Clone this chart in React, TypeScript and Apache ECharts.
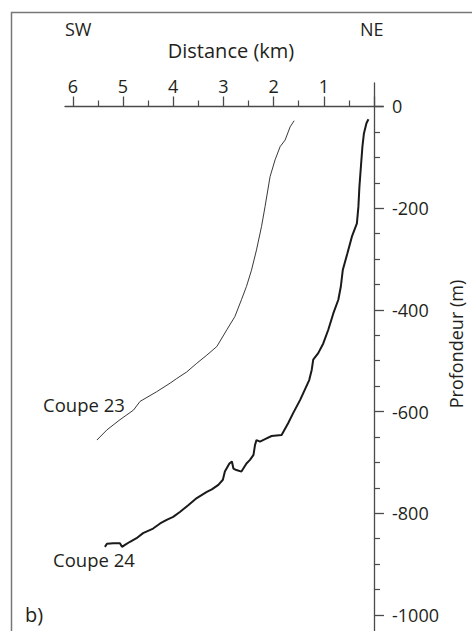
import React, { useEffect, useRef } from "react";
import * as echarts from "echarts";

// Axis ticks / labels
const xMajorTicks = [0, 1, 2, 3, 4, 5, 6];
const xLabelValues = [1, 2, 3, 4, 5, 6];
const xMinorTicks = [0.5, 1.5, 2.5, 3.5, 4.5, 5.5];
const yMajorTicks = [0, -200, -400, -600, -800, -1000];
const yMinorTicks = [-50, -100, -150, -250, -300, -350, -450, -500, -550, -650, -700, -750, -850, -900, -950];

// Coupe 23 (distance km, depth m)
const coupe23Km = [1.59, 1.67, 1.77, 1.87, 1.97, 2.07, 2.17, 2.24, 2.34, 2.44, 2.54, 2.64, 2.77, 2.93, 3.13, 3.33, 3.53, 3.73, 3.93, 4.06, 4.33, 4.66, 4.79, 5.06, 5.32, 5.52];
const coupe23Depth = [-28, -40, -66, -79, -105, -138, -197, -236, -282, -322, -354, -380, -413, -439, -472, -489, -505, -522, -535, -544, -561, -580, -597, -616, -636, -656];

// Coupe 24 (distance km, depth m)
const coupe24Km = [0.11, 0.15, 0.2, 0.23, 0.26, 0.29, 0.31, 0.34, 0.44, 0.53, 0.62, 0.66, 0.71, 0.81, 0.91, 1.01, 1.11, 1.21, 1.24, 1.29, 1.47, 1.61, 1.71, 1.84, 2.04, 2.17, 2.27, 2.34, 2.37, 2.4, 2.47, 2.54, 2.64, 2.74, 2.8, 2.83, 2.88, 2.97, 3.01, 3.1, 3.23, 3.33, 3.53, 3.7, 3.86, 4.0, 4.13, 4.26, 4.4, 4.6, 4.73, 4.86, 4.96, 5.02, 5.06, 5.19, 5.32, 5.36];
const coupe24Depth = [-25, -33, -53, -79, -118, -158, -197, -230, -256, -289, -321, -354, -380, -407, -439, -466, -485, -498, -518, -538, -577, -603, -623, -646, -648, -654, -659, -656, -666, -685, -695, -702, -718, -715, -712, -698, -702, -718, -734, -744, -753, -758, -770, -784, -797, -807, -813, -820, -830, -839, -849, -856, -862, -866, -859, -859, -860, -866];

const FONT = "'Open Sans', 'Noto Sans', sans-serif";
const TEXT_COLOR = "#231f20";
const AXIS_COLOR = "#4a4a4a";

const pairs = (xs: number[], ys: number[]) => xs.map((x, i) => [x, ys[i]]);

export default function App() {
  const ref = useRef<HTMLDivElement>(null);
  useEffect(() => {
    if (!ref.current) return;
    const chart = echarts.init(ref.current, undefined, { renderer: "svg" });
    const xBase = {
      type: "value",
      position: "top",
      offset: -23.5,
      inverse: true,
      min: -0.18,
      max: 6.155,
      splitLine: { show: false },
    };
    const yBase = {
      type: "value",
      position: "right",
      offset: -9,
      min: -1031.5,
      max: 46.2,
      splitLine: { show: false },
    };
    chart.setOption({
      animation: false,
      grid: { left: 65, right: 89, top: 83, bottom: 0, containLabel: false, outerBoundsMode: "none" },
      xAxis: [
        {
          ...xBase,
          axisLine: { show: true, lineStyle: { color: AXIS_COLOR, width: 1.3 } },
          axisTick: { show: true, length: 10, customValues: xMajorTicks, lineStyle: { color: AXIS_COLOR, width: 1.3 } },
          axisLabel: {
            show: true,
            customValues: xLabelValues,
            margin: 12,
            fontSize: 18,
            fontFamily: FONT,
            color: TEXT_COLOR,
            formatter: (v: number) => String(v),
          },
        },
        {
          ...xBase,
          axisLine: { show: false },
          axisTick: { show: true, length: 6, customValues: xMinorTicks, lineStyle: { color: AXIS_COLOR, width: 1.2 } },
          axisLabel: { show: false },
        },
      ],
      yAxis: [
        {
          ...yBase,
          axisLine: { show: true, lineStyle: { color: AXIS_COLOR, width: 1.3 } },
          axisTick: { show: true, length: 10, customValues: yMajorTicks, lineStyle: { color: AXIS_COLOR, width: 1.3 } },
          axisLabel: {
            show: true,
            customValues: yMajorTicks,
            margin: 18,
            fontSize: 18,
            fontFamily: FONT,
            color: TEXT_COLOR,
            formatter: (v: number) => String(v),
          },
        },
        {
          ...yBase,
          axisLine: { show: false },
          axisTick: { show: true, length: 6, customValues: yMinorTicks, lineStyle: { color: AXIS_COLOR, width: 1.2 } },
          axisLabel: { show: false },
        },
      ],
      series: [
        {
          name: "Coupe 23",
          type: "line",
          xAxisIndex: 0,
          yAxisIndex: 0,
          data: pairs(coupe23Km, coupe23Depth),
          showSymbol: false,
          symbol: "none",
          lineStyle: { color: "#222", width: 0.9 },
          silent: true,
        },
        {
          name: "Coupe 24",
          type: "line",
          xAxisIndex: 0,
          yAxisIndex: 0,
          data: pairs(coupe24Km, coupe24Depth),
          showSymbol: false,
          symbol: "none",
          lineStyle: { color: "#1a1a1a", width: 2 },
          silent: true,
        },
      ],
      graphic: [
        {
          type: "rect",
          silent: true,
          z: -10,
          shape: { x: 11.5, y: 12.5, width: 490, height: 650 },
          style: { fill: "none", stroke: "#777", lineWidth: 1.5 },
        },
        { type: "text", x: 65, y: 29, style: { text: "SW", font: `18px ${FONT}`, fill: TEXT_COLOR, textAlign: "left", textVerticalAlign: "middle" } },
        { type: "text", x: 360, y: 29, style: { text: "NE", font: `18px ${FONT}`, fill: TEXT_COLOR, textAlign: "left", textVerticalAlign: "middle" } },
        { type: "text", x: 231, y: 50, style: { text: "Distance (km)", font: `20px ${FONT}`, fill: TEXT_COLOR, textAlign: "center", textVerticalAlign: "middle" } },
        { type: "text", x: 456, y: 344, rotation: Math.PI / 2, style: { text: "Profondeur (m)", font: `18px ${FONT}`, fill: TEXT_COLOR, textAlign: "center", textVerticalAlign: "middle" } },
        { type: "text", x: 43, y: 404, style: { text: "Coupe 23", font: `18.5px ${FONT}`, fill: TEXT_COLOR, textAlign: "left", textVerticalAlign: "middle" } },
        { type: "text", x: 53, y: 559, style: { text: "Coupe 24", font: `18.5px ${FONT}`, fill: TEXT_COLOR, textAlign: "left", textVerticalAlign: "middle" } },
        { type: "text", x: 25, y: 614, style: { text: "b)", font: `20px ${FONT}`, fill: TEXT_COLOR, textAlign: "left", textVerticalAlign: "middle" } },
      ],
    });
    return () => chart.dispose();
  }, []);
  return (
    <div
      ref={ref}
      style={{ position: "fixed", left: 0, top: 0, width: 472, height: 631, background: "#fff" }}
    />
  );
}
